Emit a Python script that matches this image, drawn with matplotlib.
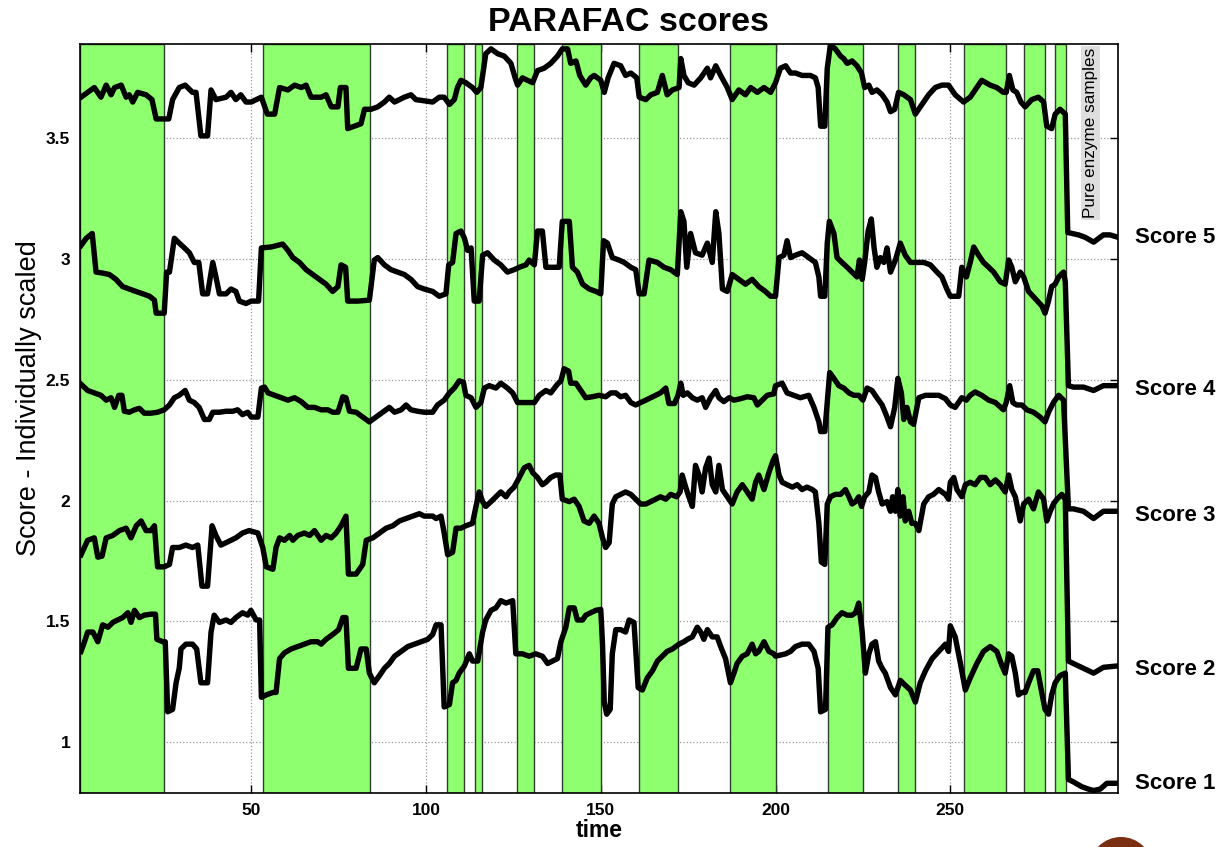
import matplotlib
matplotlib.use("Agg")
import matplotlib.pyplot as plt
from matplotlib.patches import Ellipse

plt.rcParams['font.family'] = ['Liberation Sans', 'DejaVu Sans']

# sample windows shaded green
span_start = [1, 53.5, 106, 114, 126, 139, 161, 187, 215, 235, 254, 271, 280]
span_end = [25, 84, 111, 116, 131, 150, 172, 200, 225, 240, 266, 277, 283]

# score 5
x5 = [1.3, 5.1, 7.0, 8.5, 9.9, 10.9, 12.8, 14.2, 15.1, 16.1, 17.5, 19.9, 21.6, 22.8, 25.1, 26.4,
      27.5, 29.4, 31.1, 33.2, 34.2, 35.6, 37.5, 38.5, 39.9, 42.8, 44.2, 45.6, 47.0, 48.5, 50.0,
      52.9, 54.6, 56.7, 58.1, 60.5, 62.4, 64.3, 65.7, 67.1, 70.0, 71.4, 72.9, 74.8, 75.5, 77.1,
      77.6, 79.5, 81.4, 82.4, 84.3, 86.2, 88.1, 89.5, 91.0, 93.8, 95.7, 97.1, 101.9, 103.8, 105.2,
      106.7, 108.1, 109.0, 110.0, 111.4, 113.3, 114.5, 115.7, 117.1, 118.6, 120.5, 122.4, 124.3,
      125.5, 126.2, 127.6, 129.0, 130.5, 131.9, 133.8, 135.7, 137.6, 139.0, 140.5, 141.4, 142.9,
      144.0, 145.7, 147.1, 148.1, 150.0, 151.0, 152.1, 153.8, 155.7, 157.1, 158.6, 160.3, 161.0,
      162.9, 164.3, 166.2, 167.6, 169.0, 170.5, 172.4, 172.9, 173.8, 175.0, 176.7, 178.6, 180.5,
      181.4, 182.9, 184.3, 186.2, 187.6, 189.5, 191.4, 192.9, 194.8, 196.7, 198.6, 200.0, 201.4,
      202.9, 204.3, 205.7, 207.6, 210.0, 211.4, 212.2, 212.9, 214.1, 214.8, 215.7, 217.1, 218.6,
      219.5, 220.5, 221.9, 223.3, 224.6, 225.5, 226.7, 227.6, 229.0, 230.5, 231.9, 232.9, 234.1,
      235.2, 236.7, 238.6, 240.0, 241.9, 243.8, 245.7, 247.6, 249.5, 251.4, 253.8, 255.7, 257.6,
      259.0, 261.4, 263.3, 265.2, 266.0, 266.9, 267.9, 269.0, 270.2, 271.4, 273.3, 275.2, 276.7,
      277.6, 279.0, 280.0, 281.4, 282.9, 283.6, 286.7, 288.6, 291.0, 293.8, 295.7, 298.0]
y5 = [3.67, 3.71, 3.67, 3.72, 3.68, 3.71, 3.72, 3.67, 3.68, 3.65, 3.69, 3.68, 3.66, 3.58, 3.58, 3.58,
      3.66, 3.71, 3.72, 3.69, 3.69, 3.51, 3.51, 3.70, 3.66, 3.67, 3.69, 3.66, 3.68, 3.65, 3.65,
      3.67, 3.60, 3.60, 3.71, 3.70, 3.72, 3.71, 3.72, 3.67, 3.67, 3.68, 3.63, 3.63, 3.71, 3.71,
      3.54, 3.55, 3.56, 3.62, 3.62, 3.63, 3.65, 3.67, 3.65, 3.67, 3.68, 3.66, 3.65, 3.67, 3.67,
      3.64, 3.66, 3.71, 3.74, 3.73, 3.71, 3.69, 3.71, 3.85, 3.87, 3.85, 3.84, 3.81,
      3.75, 3.72, 3.75, 3.74, 3.73, 3.78, 3.79, 3.81, 3.84, 3.87, 3.87, 3.81, 3.82,
      3.76, 3.72, 3.75, 3.76, 3.74, 3.69, 3.75, 3.81, 3.80, 3.76, 3.77, 3.75, 3.67,
      3.66, 3.68, 3.69, 3.76, 3.68, 3.70, 3.71, 3.83, 3.76, 3.73, 3.72, 3.75, 3.79,
      3.75, 3.80, 3.76, 3.71, 3.66, 3.70, 3.68, 3.71, 3.69, 3.71, 3.69, 3.73, 3.79,
      3.80, 3.77, 3.77, 3.76, 3.76, 3.75, 3.71, 3.55, 3.55, 3.79, 3.886, 3.87, 3.84,
      3.83, 3.81, 3.82, 3.80, 3.77, 3.71, 3.72, 3.69, 3.70, 3.68, 3.65, 3.61, 3.62,
      3.69, 3.68, 3.66, 3.60, 3.64, 3.68, 3.71, 3.72, 3.72, 3.68, 3.65, 3.67, 3.71,
      3.74, 3.72, 3.71, 3.69, 3.69, 3.76, 3.70, 3.69, 3.65, 3.63, 3.66, 3.67, 3.65,
      3.55, 3.54, 3.60, 3.62, 3.60, 3.11, 3.10, 3.09, 3.07, 3.10, 3.10, 3.09]

# score 4
x4 = [1.3, 2.8, 4.5, 5.6, 7.5, 9.4, 11.3, 13.2, 15.1, 17.0, 19.0, 20.9, 22.3, 22.8, 25.1, 25.8,
      26.6, 28.0, 29.4, 30.9, 32.3, 33.7, 35.0, 36.1, 37.5, 39.0, 39.9, 40.9, 42.8, 44.2, 45.6,
      46.6, 48.5, 50.0, 52.1, 52.9, 55.7, 59.0, 60.5, 61.9, 63.8, 65.7, 67.6, 69.5, 71.4, 73.3,
      74.8, 75.7, 77.0, 77.6, 80.5, 83.8, 85.2, 86.2, 88.1, 90.0, 91.9, 93.8, 95.7, 97.6, 99.5,
      101.9, 103.8, 105.7, 106.5, 107.6, 108.6, 110.0, 111.0, 111.9, 112.9, 113.8, 115.2, 116.2,
      117.6, 119.5, 121.4, 123.3, 125.2, 126.7, 128.6, 129.5, 131.0, 131.9, 133.3, 134.3, 136.2,
      138.1, 139.0, 141.0, 141.9, 143.3, 144.8, 146.7, 148.6, 150.0, 150.8, 151.9, 153.3, 155.2,
      156.7, 158.6, 160.0, 161.0, 162.4, 163.8, 166.2, 168.1, 170.0, 171.9, 172.9, 173.8, 174.6,
      175.7, 177.1, 179.0, 180.5, 181.9, 182.9, 183.8, 184.8, 186.2, 187.6, 189.5, 191.4, 193.3,
      195.2, 197.1, 198.6, 200.0, 201.0, 202.4, 203.3, 204.3, 205.7, 207.6, 209.5, 211.4, 212.4,
      212.9, 214.1, 214.8, 215.4, 216.7, 217.6, 219.0, 220.5, 221.9, 223.3, 224.0, 224.8, 225.5,
      226.5, 227.4, 228.2, 229.0, 230.0, 231.0, 231.9, 232.9, 234.3, 235.7, 237.1, 238.6, 240.5,
      242.4, 244.3, 246.2, 247.6, 249.0, 250.0, 252.4, 253.3, 254.6, 255.7, 256.7, 258.1, 259.5,
      261.0, 262.4, 264.3, 265.7, 266.7, 267.6, 268.6, 270.0, 271.0, 272.4, 274.3, 276.2, 277.1,
      278.1, 279.0, 280.0, 281.0, 282.4, 282.9, 283.8, 285.2, 288.1, 291.0, 293.8, 298.0]
y4 = [3.056, 3.086, 3.106, 2.946, 2.942, 2.936, 2.916, 2.886, 2.876, 2.866, 2.856, 2.846, 2.83, 2.776,
      2.776, 2.946, 2.946, 3.086, 3.066, 3.046, 3.026, 2.986, 2.986, 2.856, 2.856, 2.986, 2.926,
      2.856, 2.856, 2.876, 2.866, 2.826, 2.816, 2.826, 2.826, 3.046, 3.05, 3.062, 3.036, 3.006,
      2.986, 2.956, 2.936, 2.916, 2.896, 2.866, 2.886, 2.976, 2.966, 2.826, 2.826, 2.83, 2.996,
      3.006, 2.976, 2.956, 2.946, 2.936, 2.916, 2.886, 2.876, 2.866, 2.846, 2.856, 2.976, 2.986,
      3.106, 3.116, 3.086, 3.036, 3.046, 2.826, 2.826, 3.016, 3.026, 2.996, 2.976, 2.946, 2.956,
      2.966, 2.976, 2.996, 2.976, 3.116, 3.116, 2.966, 2.966, 2.966, 3.156, 3.156, 2.966, 2.946,
      2.896, 2.876, 2.866, 2.856, 3.076, 3.066, 3.006, 2.996, 2.986, 2.966, 2.956, 2.856, 2.856,
      2.996, 2.986, 2.966, 2.956, 2.936, 3.196, 3.156, 2.966, 3.106, 3.026, 3.016, 3.066, 2.986,
      3.196, 3.106, 2.876, 2.866, 2.936, 2.916, 2.896, 2.916, 2.886, 2.866, 2.846, 2.846, 3.006,
      3.016, 3.076, 3.006, 3.016, 3.026, 3.006, 2.986, 2.926, 2.846, 2.846, 3.066, 3.156, 3.106,
      3.006, 2.986, 2.966, 2.946, 2.926, 2.996, 2.916, 2.986, 3.116, 3.166, 3.046, 2.966, 3.006,
      2.986, 3.046, 2.946, 2.996, 3.066, 3.016, 2.986, 2.986, 2.986, 2.976, 2.946, 2.926, 2.876,
      2.846, 2.846, 2.966, 2.926, 2.986, 3.05, 3.016, 2.986, 2.966, 2.946, 2.906, 2.896, 2.996,
      2.966, 2.906, 2.946, 2.926, 2.866, 2.836, 2.806, 2.776, 2.826, 2.886, 2.896, 2.926, 2.946,
      2.906, 2.476, 2.47, 2.47, 2.456, 2.476, 2.476]

# score 3
x3 = [1.3, 3.2, 5.1, 7.0, 8.5, 9.9, 10.9, 12.1, 13.0, 13.7, 15.1, 16.6, 18.0, 19.4, 21.3, 23.2,
      25.1, 26.6, 28.0, 29.4, 31.1, 32.3, 33.7, 35.1, 36.6, 38.0, 39.0, 40.9, 42.8, 44.7, 46.1,
      47.5, 49.0, 50.0, 51.9, 52.9, 53.8, 54.8, 56.7, 58.6, 60.5, 62.4, 64.3, 66.2, 68.1, 70.0,
      71.9, 73.3, 74.8, 76.2, 77.1, 78.1, 80.0, 81.9, 83.8, 85.7, 87.6, 89.5, 91.0, 92.9, 94.3,
      95.7, 97.6, 99.5, 101.9, 103.3, 105.2, 106.7, 108.1, 109.5, 110.7, 111.4, 112.9, 114.3,
      115.7, 116.7, 118.1, 120.0, 121.4, 123.3, 124.8, 126.2, 127.6, 129.5, 131.0, 132.4, 134.3,
      135.7, 137.6, 138.6, 139.5, 140.8, 141.4, 142.9, 144.3, 145.7, 147.6, 149.5, 151.4, 152.9,
      154.3, 155.7, 157.1, 158.6, 160.0, 161.4, 162.9, 164.3, 165.7, 167.1, 168.6, 169.5, 171.1,
      172.1, 172.9, 173.6, 174.8, 176.2, 177.6, 179.0, 180.0, 181.4, 182.9, 183.8, 185.2, 186.7,
      188.1, 190.0, 191.9, 193.8, 194.8, 196.2, 197.6, 199.5, 200.0, 201.9, 203.3, 205.2, 207.1,
      209.5, 211.0, 212.4, 212.9, 214.1, 214.8, 215.5, 216.7, 218.1, 219.5, 221.0, 222.4, 223.8,
      225.0, 226.2, 227.6, 229.0, 230.5, 231.9, 232.9, 234.1, 235.0, 236.0, 236.7, 237.6, 238.6,
      239.5, 241.0, 242.9, 244.8, 246.7, 248.6, 250.0, 251.4, 253.3, 254.6, 255.7, 257.1, 259.0,
      261.0, 262.9, 265.2, 266.0, 267.0, 267.9, 269.0, 270.5, 271.9, 273.8, 275.7, 277.1, 278.1,
      279.5, 281.0, 282.4, 283.8, 285.2, 288.1, 291.0, 293.8, 298.0]
y3 = [2.482, 2.456, 2.446, 2.436, 2.416, 2.426, 2.386, 2.436, 2.436, 2.37, 2.366, 2.376, 2.382, 2.362,
      2.362, 2.366, 2.376, 2.396, 2.426, 2.436, 2.456, 2.416, 2.406, 2.386, 2.336, 2.336, 2.366,
      2.366, 2.37, 2.37, 2.376, 2.356, 2.366, 2.346, 2.346, 2.466, 2.47, 2.446, 2.436, 2.426, 2.416,
      2.426, 2.41, 2.386, 2.386, 2.376, 2.376, 2.366, 2.366, 2.43, 2.426, 2.37, 2.366, 2.346, 2.326,
      2.346, 2.366, 2.386, 2.366, 2.376, 2.396, 2.376, 2.37, 2.366, 2.366, 2.396, 2.416, 2.446,
      2.466, 2.496, 2.49, 2.436, 2.426, 2.386, 2.406, 2.466, 2.476, 2.466, 2.486, 2.466, 2.446,
      2.406, 2.406, 2.406, 2.406, 2.436, 2.456, 2.446, 2.482, 2.496, 2.546, 2.536, 2.486, 2.486,
      2.456, 2.426, 2.43, 2.436, 2.43, 2.446, 2.446, 2.43, 2.436, 2.406, 2.396, 2.406, 2.416, 2.426,
      2.436, 2.446, 2.466, 2.402, 2.402, 2.436, 2.486, 2.436, 2.446, 2.426, 2.416, 2.426, 2.386,
      2.426, 2.456, 2.426, 2.41, 2.426, 2.416, 2.422, 2.43, 2.426, 2.396, 2.416, 2.436, 2.442,
      2.476, 2.486, 2.446, 2.436, 2.426, 2.436, 2.386, 2.326, 2.286, 2.286, 2.406, 2.53, 2.506,
      2.476, 2.466, 2.446, 2.436, 2.436, 2.416, 2.466, 2.456, 2.426, 2.396, 2.346, 2.306, 2.386,
      2.506, 2.446, 2.336, 2.386, 2.326, 2.316, 2.426, 2.436, 2.436, 2.436, 2.422, 2.396, 2.386,
      2.426, 2.416, 2.436, 2.45, 2.436, 2.416, 2.406, 2.376, 2.406, 2.476, 2.406, 2.396, 2.396,
      2.376, 2.366, 2.346, 2.326, 2.366, 2.406, 2.436, 2.416, 1.966, 1.966, 1.956, 1.926, 1.956,
      1.956]

# score 2
x2 = [1.3, 3.2, 5.1, 6.1, 7.3, 8.5, 10.4, 12.3, 14.2, 15.6, 17.1, 18.5, 19.9, 21.3, 22.3, 23.2,
      25.1, 26.6, 27.5, 29.4, 31.3, 33.2, 34.7, 35.9, 37.5, 38.8, 39.9, 41.3, 42.8, 44.2, 45.6,
      47.5, 49.4, 51.9, 53.3, 54.3, 56.2, 57.1, 58.1, 59.5, 61.0, 61.9, 63.3, 65.2, 66.7, 68.1,
      70.0, 71.4, 72.9, 74.3, 75.7, 77.1, 77.8, 80.0, 81.9, 82.9, 84.8, 86.7, 88.6, 90.5, 92.4,
      94.3, 96.2, 98.1, 99.5, 101.9, 102.9, 104.3, 105.2, 106.2, 107.6, 108.6, 110.0, 111.4,
      113.3, 114.3, 115.2, 116.2, 117.1, 118.6, 120.0, 121.4, 122.9, 123.8, 125.2, 126.7, 128.1,
      129.5, 130.5, 131.9, 133.3, 134.3, 135.7, 137.1, 138.3, 139.0, 141.0, 142.4, 143.8, 145.2,
      146.7, 148.1, 149.5, 150.5, 151.4, 152.4, 153.3, 154.3, 155.7, 157.1, 158.6, 160.0, 161.4,
      162.9, 164.3, 165.7, 167.1, 168.6, 170.0, 171.7, 172.7, 173.3, 174.3, 175.2, 176.2, 177.1,
      178.1, 179.0, 180.0, 181.0, 181.9, 182.9, 183.8, 184.8, 186.2, 187.6, 189.0, 190.5, 191.9,
      193.3, 194.3, 195.2, 196.7, 198.1, 199.3, 200.0, 201.0, 201.9, 203.3, 204.8, 206.2, 207.6,
      209.0, 210.5, 211.4, 212.4, 213.1, 214.1, 214.8, 215.7, 217.1, 218.6, 220.0, 221.0, 221.9,
      222.9, 223.8, 224.6, 225.5, 226.7, 227.6, 228.6, 229.5, 230.5, 231.9, 232.9, 233.5, 234.3,
      235.0, 235.7, 236.5, 237.1, 238.1, 239.0, 240.0, 241.0, 242.4, 243.8, 245.2, 246.7, 247.6,
      248.6, 249.5, 250.0, 251.0, 251.9, 253.3, 254.3, 255.7, 257.1, 258.6, 260.0, 261.4, 262.9,
      264.3, 265.7, 266.7, 267.6, 268.6, 270.0, 271.0, 272.4, 273.8, 275.2, 276.7, 277.6, 278.6,
      279.5, 280.5, 281.9, 282.9, 283.8, 285.2, 288.1, 291.0, 293.8, 298.0]
y2 = [1.776, 1.836, 1.846, 1.766, 1.77, 1.846, 1.856, 1.876, 1.886, 1.846, 1.896, 1.916, 1.876,
      1.876, 1.896, 1.726, 1.726, 1.736, 1.806, 1.806, 1.816, 1.806, 1.816, 1.646, 1.646, 1.896,
      1.856, 1.816, 1.826, 1.836, 1.846, 1.866, 1.876, 1.866, 1.806, 1.726, 1.716, 1.806, 1.846,
      1.836, 1.856, 1.836, 1.856, 1.866, 1.856, 1.876, 1.836, 1.856, 1.846, 1.866, 1.896, 1.936,
      1.696, 1.696, 1.736, 1.836, 1.846, 1.866, 1.886, 1.896, 1.916, 1.926, 1.936, 1.946, 1.936,
      1.936, 1.926, 1.936, 1.866, 1.776, 1.786, 1.886, 1.886, 1.896, 1.906, 1.976, 2.036, 1.996,
      1.976, 1.996, 2.016, 2.036, 2.016, 2.036, 2.056, 2.096, 2.136, 2.146, 2.116, 2.096, 2.066,
      2.076, 2.096, 2.106, 2.106, 2.006, 1.996, 2.006, 1.976, 1.916, 1.906, 1.936, 1.906, 1.846,
      1.806, 1.826, 1.986, 2.016, 2.026, 2.036, 2.026, 2.006, 1.986, 1.986, 1.996, 2.006, 2.016,
      2.006, 2.026, 2.016, 2.036, 2.106, 2.056, 2.016, 1.976, 2.146, 2.106, 2.036, 2.136, 2.176,
      2.066, 2.036, 2.146, 2.046, 2.016, 1.986, 2.036, 2.066, 2.036, 2.006, 2.076, 2.106, 2.046,
      2.116, 2.166, 2.186, 2.106, 2.076, 2.066, 2.056, 2.066, 2.046, 2.056, 2.046, 2.036, 1.906,
      1.746, 1.736, 1.986, 2.016, 2.026, 2.026, 2.046, 2.016, 1.986, 1.996, 2.016, 1.976, 2.016,
      2.036, 2.106, 2.096, 2.036, 1.986, 1.996, 1.956, 2.016, 1.956, 2.046, 1.936, 2.016, 1.916,
      1.956, 1.906, 1.906, 1.876, 1.986, 2.016, 2.026, 2.046, 2.036, 2.026, 2.006, 2.076, 2.096,
      2.046, 2.016, 2.066, 2.076, 2.066, 2.096, 2.096, 2.066, 2.086, 2.066, 2.036, 2.106, 2.046,
      2.016, 1.916, 1.986, 2.006, 1.966, 2.036, 2.006, 1.916, 1.956, 1.986, 2.006, 2.026, 2.006,
      1.336, 1.326, 1.306, 1.286, 1.31, 1.316]

# score 1
x1 = [1.3, 2.3, 3.2, 4.7, 6.1, 7.5, 9.0, 10.4, 11.8, 13.2, 14.7, 15.6, 16.6, 18.0, 19.4, 21.3,
      22.6, 23.0, 24.7, 25.4, 26.1, 27.5, 28.5, 29.4, 29.9, 31.3, 33.2, 34.4, 35.6, 37.5, 38.5,
      39.4, 40.9, 42.8, 44.2, 45.6, 47.5, 49.0, 49.9, 51.4, 52.4, 52.9, 54.3, 56.2, 57.1, 58.1,
      59.5, 61.4, 63.3, 65.2, 67.1, 69.0, 70.0, 71.4, 73.3, 75.0, 76.2, 77.1, 77.8, 80.0, 81.4,
      82.9, 83.8, 85.2, 86.7, 88.1, 89.5, 91.0, 92.9, 94.8, 96.7, 98.6, 100.5, 101.9, 102.9, 104.3,
      105.2, 106.7, 107.6, 108.6, 109.5, 111.0, 112.4, 113.3, 114.8, 116.2, 117.1, 118.6, 120.0,
      121.4, 122.9, 124.8, 125.7, 127.6, 129.5, 131.4, 133.3, 134.8, 136.2, 137.6, 138.6, 140.0,
      141.0, 142.4, 143.3, 144.8, 145.7, 147.1, 148.6, 150.0, 150.5, 151.0, 151.7, 152.7, 153.3,
      154.3, 155.7, 157.1, 158.1, 159.5, 160.7, 161.9, 163.3, 164.8, 166.2, 167.6, 169.0, 170.5,
      172.4, 173.8, 174.8, 176.2, 177.6, 178.6, 179.5, 180.5, 181.9, 183.3, 184.3, 185.7, 187.1,
      188.1, 189.0, 190.5, 191.9, 193.3, 194.3, 195.2, 196.7, 198.1, 199.5, 200.0, 202.9, 204.3,
      205.7, 207.6, 209.5, 211.0, 212.2, 212.9, 214.3, 215.0, 216.2, 217.6, 219.0, 220.5, 221.9,
      222.9, 223.8, 224.8, 225.7, 226.7, 227.6, 228.6, 229.5, 230.5, 231.4, 232.9, 234.3, 235.7,
      237.1, 238.6, 240.0, 241.4, 242.9, 244.8, 246.7, 248.6, 249.5, 250.0, 251.4, 252.9, 254.3,
      255.7, 257.6, 259.5, 261.4, 263.3, 264.8, 265.7, 266.7, 267.6, 268.6, 269.5, 270.5, 271.4,
      272.4, 273.8, 275.0, 275.9, 277.1, 278.1, 279.0, 280.0, 281.4, 282.9, 283.8, 285.2, 287.6,
      289.5, 291.0, 292.9, 294.8, 298.0]
y1 = [1.376, 1.416, 1.456, 1.456, 1.416, 1.486, 1.476, 1.496, 1.506, 1.516, 1.536, 1.496, 1.546,
      1.516, 1.526, 1.53, 1.53, 1.426, 1.416, 1.416, 1.126, 1.136, 1.246, 1.306, 1.386, 1.406,
      1.406, 1.386, 1.246, 1.246, 1.456, 1.526, 1.496, 1.506, 1.496, 1.516, 1.536, 1.526, 1.546,
      1.506, 1.506, 1.186, 1.196, 1.206, 1.206, 1.346, 1.37, 1.386, 1.396, 1.406, 1.416, 1.416,
      1.406, 1.426, 1.446, 1.466, 1.516, 1.516, 1.306, 1.306, 1.386, 1.386, 1.286, 1.246, 1.276,
      1.306, 1.326, 1.356, 1.376, 1.396, 1.406, 1.416, 1.426, 1.446, 1.486, 1.486, 1.146, 1.156,
      1.246, 1.256, 1.286, 1.316, 1.366, 1.336, 1.336, 1.456, 1.506, 1.546, 1.556, 1.586, 1.576,
      1.586, 1.366, 1.366, 1.356, 1.366, 1.356, 1.326, 1.336, 1.346, 1.416, 1.476, 1.556, 1.556,
      1.506, 1.506, 1.526, 1.536, 1.546, 1.55, 1.406, 1.166, 1.116, 1.136, 1.366, 1.466, 1.466,
      1.456, 1.506, 1.496, 1.226, 1.216, 1.266, 1.296, 1.336, 1.356, 1.376, 1.386, 1.406, 1.416,
      1.426, 1.436, 1.476, 1.456, 1.426, 1.466, 1.436, 1.436, 1.396, 1.346, 1.246, 1.286, 1.326,
      1.356, 1.366, 1.406, 1.366, 1.376, 1.416, 1.376, 1.366, 1.356, 1.366, 1.376, 1.396, 1.406,
      1.406, 1.376, 1.306, 1.126, 1.136, 1.476, 1.486, 1.516, 1.536, 1.526, 1.526, 1.536, 1.576,
      1.456, 1.286, 1.366, 1.406, 1.416, 1.336, 1.306, 1.286, 1.226, 1.196, 1.256, 1.236, 1.216,
      1.166, 1.246, 1.296, 1.346, 1.376, 1.406, 1.376, 1.482, 1.436, 1.326, 1.216, 1.266, 1.326,
      1.376, 1.396, 1.376, 1.316, 1.286, 1.366, 1.356, 1.286, 1.196, 1.206, 1.206, 1.246, 1.296,
      1.296, 1.226, 1.136, 1.116, 1.196, 1.246, 1.276, 1.286, 0.846, 0.836, 0.816, 0.806, 0.80,
      0.806, 0.83, 0.83]

score_names = ['Score 5', 'Score 4', 'Score 3', 'Score 2', 'Score 1']
score_label_y = [3.09, 2.46, 1.94, 1.30, 0.83]

x_ticks = [50, 100, 150, 200, 250]
y_ticks = [1, 1.5, 2, 2.5, 3, 3.5]
y_tick_labels = ['1', '1.5', '2', '2.5', '3', '3.5']

fig = plt.figure(figsize=(12.19, 8.47), dpi=100)
ax = fig.add_axes([0.0656, 0.0638, 0.8516, 0.8842])

for s, e in zip(span_start, span_end):
    ax.axvspan(s, e, facecolor='#8eff6e', edgecolor='#2f3f2f', linewidth=1.0, zorder=1)

for xs, ys in [(x5, y5), (x4, y4), (x3, y3), (x2, y2), (x1, y1)]:
    ax.plot(xs, ys, color='black', linewidth=3.9, solid_joinstyle='round', zorder=3)

ax.set_xlim(1, 298)
ax.set_ylim(0.79, 3.89)
ax.set_xticks(x_ticks)
ax.set_xticklabels([str(t) for t in x_ticks])
ax.set_yticks(y_ticks)
ax.set_yticklabels(y_tick_labels)
ax.set_axisbelow(True)
ax.grid(True, linestyle=':', color='#9a9a9a', linewidth=0.9)
ax.tick_params(direction='in', length=6, width=1, top=True, right=True,
               labelsize=12.5, pad=7)
for lab in ax.get_xticklabels() + ax.get_yticklabels():
    lab.set_fontweight('bold')
for sp in ax.spines.values():
    sp.set_linewidth(1.2)

ax.set_xlabel('time', fontsize=16.5, fontweight='bold', labelpad=1)
ax.set_ylabel('Score - Individually scaled', fontsize=19.5)
ax.yaxis.set_label_coords(-0.037, 0.527)

fig.text(0.5156, 0.973, 'PARAFAC scores', ha='center', va='center',
         fontsize=24.5, fontweight='bold')

ax.text(290, 3.875, 'Pure enzyme samples', rotation=90, ha='center', va='top',
        fontsize=12.3, zorder=4,
        bbox=dict(facecolor='#dedede', edgecolor='none', pad=1.5))

label_tf = ax.get_yaxis_transform()
for name, yv in zip(score_names, score_label_y):
    ax.text(1.016, yv, name, transform=label_tf, ha='left', va='center',
            fontsize=16, fontweight='bold', clip_on=False)

# logo peeking in at the bottom edge
fig.patches.append(Ellipse((1121 / 1219, -20 / 847), 62 / 1219, 60 / 847,
                           transform=fig.transFigure, facecolor='#7a2e12',
                           edgecolor='none'))

fig.savefig('out.png', dpi=100)
